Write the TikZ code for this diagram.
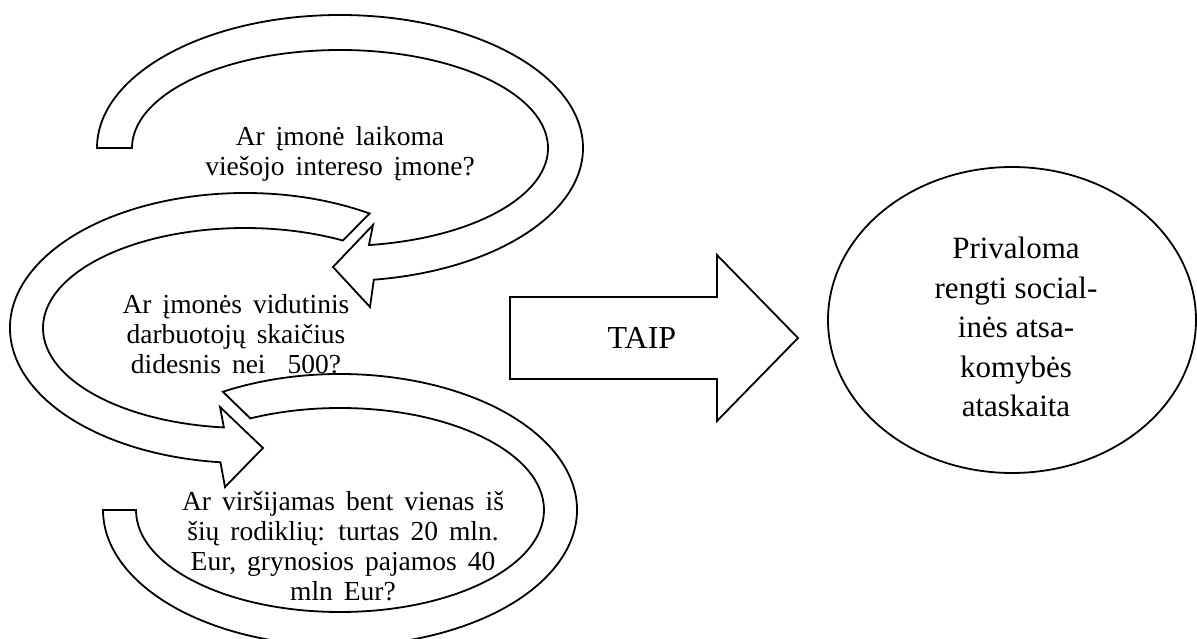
\documentclass[tikz,border=0pt]{standalone}
\usepackage{fontspec}
\setmainfont{Liberation Serif}
\newfontfamily\qfont[WordSpace=1.6]{Liberation Serif}
\usetikzlibrary{shapes.geometric}
\begin{document}
\begin{tikzpicture}[x=1pt,y=1pt,
  band/.style={draw=black,fill=white,line width=1.8pt,line join=miter},
  qtext/.style={align=center,font=\qfont\fontsize{27.5}{30}\selectfont,inner sep=0pt},
  btext/.style={align=center,font=\fontsize{31}{39.5}\selectfont,inner sep=0pt}]
\useasboundingbox (0,0) rectangle (1197,-639);
\clip (0,0) rectangle (1197,-639);
% top ring
\draw[band] (97,-148) arc[start angle=180,end angle=-82,x radius=243,y radius=133]
  -- (370,-307) -- (333,-267) -- (373,-225) -- ({340+208*cos(-82)},{-148+98*sin(-82)})
  arc[start angle=-82,end angle=180,x radius=208,y radius=98] -- cycle;
% middle ring
\draw[band] ({245+235*cos(58)},{-328+135*sin(58)})
  arc[start angle=58,end angle=264,x radius=235,y radius=135]
  -- (225,-487) -- (263,-448) -- (220,-407) -- ({245+202*cos(264)},{-328+100*sin(264)})
  arc[start angle=264,end angle=61,x radius=202,y radius=100] -- cycle;
% bottom ring
\draw[band] ({340+237*cos(119.6)},{-510+136*sin(119.6)})
  arc[start angle=119.6,end angle=-180,x radius=237,y radius=136]
  -- (136,-510)
  arc[start angle=-180,end angle=116.1,x radius=204,y radius=102] -- cycle;
% TAIP arrow
\draw[band] (510,-297) -- (717,-297) -- (717,-255) -- (798,-338) -- (717,-421) -- (717,-379) -- (510,-379) -- cycle;
\node[btext,font=\fontsize{32}{39.5}\selectfont] (taip) at (642,-338) {TAIP};
% result ellipse
\node[ellipse, draw, line width=1.8pt, minimum width=368pt, minimum height=306pt, inner sep=0pt] (res) at (1012,-320) {};
\node[btext] (restext) at (1016,-327) {Privaloma\\rengti social-\\inės atsa-\\komybės\\ataskaita};
% questions
\node[qtext] (q1) at (340,-154) {Ar įmonė laikoma\\viešojo intereso įmone?};
\node[qtext] (q2) at (236,-334) {Ar įmonės vidutinis\\darbuotojų skaičius\\didesnis nei\ \ 500?};
\node[qtext] (q3) at (343,-546.5) {Ar viršijamas bent vienas iš\\šių rodiklių: turtas 20 mln.\\Eur, grynosios pajamos 40\\mln Eur?};
\end{tikzpicture}
\end{document}
